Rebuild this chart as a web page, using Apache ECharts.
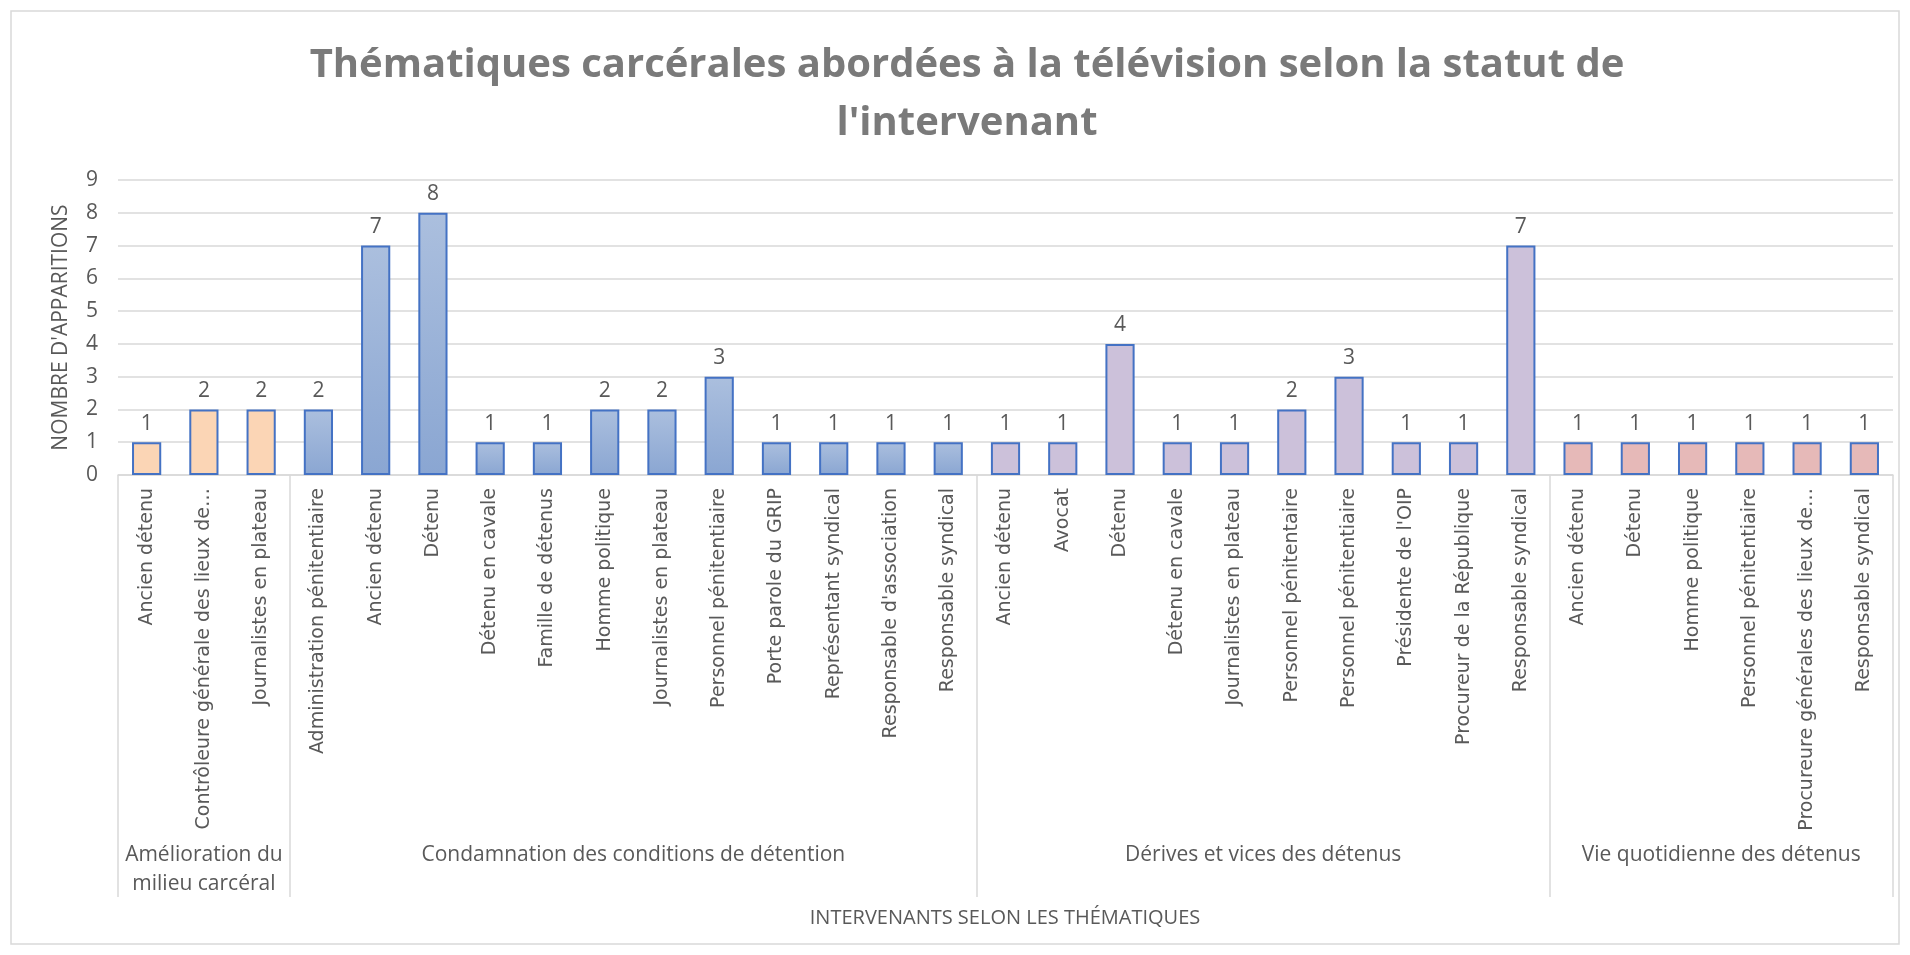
<!DOCTYPE html>
<html>
<head>
<meta charset="utf-8">
<script src="https://cdn.jsdelivr.net/npm/echarts@6/dist/echarts.min.js"></script>
<style>
  html, body { margin: 0; padding: 0; background: #fff; }
  #chart { width: 1910px; height: 955px; }
</style>
</head>
<body>
<div id="chart"></div>
<script>
  // thématiques (niveau 2 de l'axe)
  const groupNames = [
    'Amélioration du\nmilieu carcéral',
    'Condamnation des conditions de détention',
    'Dérives et vices des détenus',
    'Vie quotidienne des détenus'
  ];
  // intervenants (niveau 1 de l'axe)
  const groupLabels = [
    ['Ancien détenu', 'Contrôleure générale des lieux de…', 'Journalistes en plateau'],
    ['Administration pénitentiaire', 'Ancien détenu', 'Détenu', 'Détenu en cavale', 'Famille de détenus',
     'Homme politique', 'Journalistes en plateau', 'Personnel pénitentiaire', 'Porte parole du GRIP',
     'Représentant syndical', "Responsable d'association", 'Responsable syndical'],
    ['Ancien détenu', 'Avocat', 'Détenu', 'Détenu en cavale', 'Journalistes en plateau',
     'Personnel pénitentaire', 'Personnel pénitentiaire', "Présidente de l'OIP",
     'Procureur de la République', 'Responsable syndical'],
    ['Ancien détenu', 'Détenu', 'Homme politique', 'Personnel pénitentiaire',
     'Procureure générales des lieux de…', 'Responsable syndical']
  ];
  const groupValues = [
    [1, 2, 2],
    [2, 7, 8, 1, 1, 2, 2, 3, 1, 1, 1, 1],
    [1, 1, 4, 1, 1, 2, 3, 1, 1, 7],
    [1, 1, 1, 1, 1, 1]
  ];
  const yMax = 9;

  const categories = [].concat(...groupLabels);
  const bounds = [0];
  groupLabels.forEach(g => bounds.push(bounds[bounds.length - 1] + g.length));
  const mids = groupNames.map((n, i) => (bounds[i] + bounds[i + 1]) / 2);

  const blueFill = new echarts.graphic.LinearGradient(0, 0, 0, 1, [
    { offset: 0, color: '#abbfde' },
    { offset: 1, color: '#8aa6d2' }
  ]);
  const groupFills = ['#fbd5b5', blueFill, '#ccc1da', '#e6b9b8'];

  const barData = [];
  groupValues.forEach((vals, g) => {
    vals.forEach(v => barData.push({ value: v, itemStyle: { color: groupFills[g] } }));
  });

  const textColor = '#595959';
  const gridColor = '#d9d9d9';

  const myChart = echarts.init(document.getElementById('chart'));
  const option = {
    backgroundColor: '#fff',
    animation: false,
    title: {
      text: "Thématiques carcérales abordées à la télévision selon la statut de\nl'intervenant",
      left: 967,
      textAlign: 'center',
      top: 37,
      padding: 0,
      textStyle: {
        fontFamily: 'Open Sans',
        fontWeight: 'bold',
        fontSize: 40,
        lineHeight: 58,
        color: '#7a7a7a'
      }
    },
    grid: { left: 118, right: 17, top: 180, bottom: 480 },
    xAxis: [
      {
        type: 'category',
        data: categories,
        axisLine: { lineStyle: { color: gridColor, width: 1.5 } },
        axisTick: { show: false },
        axisLabel: {
          interval: 0,
          rotate: 90,
          margin: 13,
          color: textColor,
          fontSize: 19,
          fontFamily: 'DejaVu Sans'
        }
      },
      {
        type: 'value',
        position: 'bottom',
        min: 0,
        max: bounds[bounds.length - 1],
        axisLine: { show: false },
        splitLine: { show: false },
        axisTick: {
          show: true,
          customValues: bounds,
          length: 422,
          lineStyle: { color: gridColor, width: 1.5 }
        },
        axisLabel: {
          customValues: mids,
          formatter: v => groupNames[mids.indexOf(v)],
          margin: 366,
          lineHeight: 29,
          color: textColor,
          fontSize: 21,
          fontFamily: 'Open Sans'
        }
      }
    ],
    yAxis: {
      type: 'value',
      min: 0,
      max: yMax,
      interval: 1,
      name: "NOMBRE D'APPARITIONS",
      nameLocation: 'middle',
      nameGap: 46,
      nameTextStyle: { color: textColor, fontSize: 21, fontFamily: 'Open Sans' },
      axisLine: { show: false },
      axisTick: { show: false },
      axisLabel: { margin: 20, color: textColor, fontSize: 21, fontFamily: 'Open Sans' },
      splitLine: { lineStyle: { color: gridColor, width: 1.5 } }
    },
    series: [
      {
        type: 'bar',
        xAxisIndex: 0,
        barWidth: '51%',
        data: barData,
        itemStyle: { borderColor: '#4472c4', borderWidth: 2 },
        label: {
          show: true,
          position: 'top',
          distance: 8,
          color: textColor,
          fontSize: 21,
          fontFamily: 'Open Sans'
        }
      }
    ],
    graphic: [
      {
        type: 'rect',
        silent: true,
        shape: { x: 11, y: 11, width: 1888, height: 933 },
        style: { fill: 'none', stroke: gridColor, lineWidth: 1.5 }
      },
      {
        type: 'text',
        x: 1005,
        y: 918,
        style: {
          text: 'INTERVENANTS SELON LES THÉMATIQUES',
          fill: textColor,
          fontSize: 20,
          fontFamily: 'Open Sans',
          align: 'center',
          verticalAlign: 'middle'
        }
      }
    ]
  };
  myChart.setOption(option);
</script>
</body>
</html>
